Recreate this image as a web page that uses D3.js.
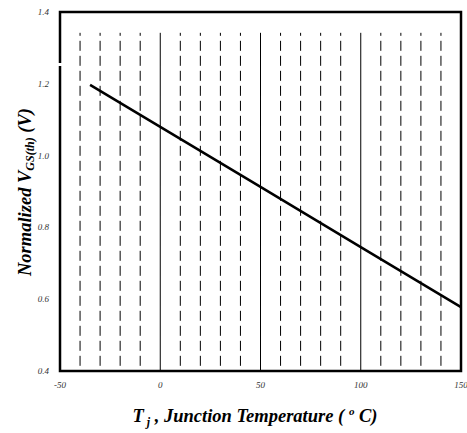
<!DOCTYPE html>
<html><head><meta charset="utf-8">
<script src="https://cdn.jsdelivr.net/npm/d3@7"></script>
<style>body{margin:0;background:#fff}svg{display:block}</style>
</head><body>
<svg id="c" width="467" height="433"></svg>
<script>
const tempC = [-35, 0, 50, 100, 150];
const vgsNorm = [1.197, 1.08, 0.913, 0.745, 0.578];
const xTicks = [-50, 0, 50, 100, 150];
const yTicks = [0.4, 0.6, 0.8, 1.0, 1.2, 1.4];
const gridDashed = [-40, -30, -20, -10, 10, 20, 30, 40, 60, 70, 80, 90, 110, 120, 130, 140];
const gridSolid = [0, 50, 100];

const svg = d3.select("#c");
const x = d3.scaleLinear().domain([-50, 150]).range([60, 461]);
const y = d3.scaleLinear().domain([0.4, 1.4]).range([371, 12]);
const gridTop = y(1.342);

svg.selectAll(".gd").data(gridDashed).enter().append("line")
  .attr("x1", d => x(d)).attr("x2", d => x(d))
  .attr("y1", gridTop).attr("y2", y(0.4))
  .attr("stroke", "#000").attr("stroke-width", 1)
  .attr("stroke-dasharray", "3,5,10,5,10,5,10,5,10,5,10,5,10,5,10,5,10,5,10,5,10,5,10,5,10,5,10,5,10,5,10,5,10,5,10,5,10,5,10,5,10,5,10,5,10,5");
svg.selectAll(".gs").data(gridSolid).enter().append("line")
  .attr("x1", d => x(d)).attr("x2", d => x(d))
  .attr("y1", gridTop).attr("y2", y(0.4))
  .attr("stroke", "#000").attr("stroke-width", 1);

// frame
svg.append("rect").attr("x", x(-50)).attr("y", y(1.4))
  .attr("width", x(150) - x(-50)).attr("height", y(0.4) - y(1.4))
  .attr("fill", "none").attr("stroke", "#000").attr("stroke-width", 2.5);
// small gap in the left frame
svg.append("rect").attr("x", x(-50) - 2).attr("y", 63).attr("width", 4).attr("height", 3).attr("fill", "#fff");

const line = d3.line().x((d, i) => x(tempC[i])).y(d => y(d));
svg.append("path").datum(vgsNorm).attr("d", line)
  .attr("fill", "none").attr("stroke", "#000").attr("stroke-width", 2.5);

const fnt = "'Liberation Serif', 'DejaVu Serif', serif";
svg.selectAll(".xt").data(xTicks).enter().append("text")
  .attr("x", d => x(d)).attr("y", 388).attr("text-anchor", "middle")
  .attr("font-family", fnt).attr("font-style", "italic").attr("font-size", 9).attr("fill", "#333")
  .text(d => d);
svg.selectAll(".yt").data(yTicks).enter().append("text")
  .attr("x", 49).attr("y", d => y(d) + 3).attr("text-anchor", "end")
  .attr("font-family", fnt).attr("font-style", "italic").attr("font-size", 9).attr("fill", "#333")
  .text(d => d.toFixed(1));

const xt = svg.append("text").attr("x", 255).attr("y", 422).attr("text-anchor", "middle")
  .attr("font-family", fnt).attr("font-style", "italic").attr("font-weight", "bold").attr("font-size", 18.5);
xt.append("tspan").text("T");
xt.append("tspan").attr("font-size", 12).attr("dy", 4).text(" j");
xt.append("tspan").attr("dy", -4).text(" , Junction Temperature ( ");
xt.append("tspan").attr("font-size", 11).attr("dy", -7).text("o");
xt.append("tspan").attr("dy", 7).text(" C)");

const yt = svg.append("text").attr("transform", "translate(31,192) rotate(-90)").attr("text-anchor", "middle")
  .attr("font-family", fnt).attr("font-style", "italic").attr("font-weight", "bold").attr("font-size", 18.5);
yt.append("tspan").text("Normalized V");
yt.append("tspan").attr("font-size", 12).attr("dy", 3).text("GS(th)");
yt.append("tspan").attr("dy", -3).text(" (V)");
</script>
</body></html>
